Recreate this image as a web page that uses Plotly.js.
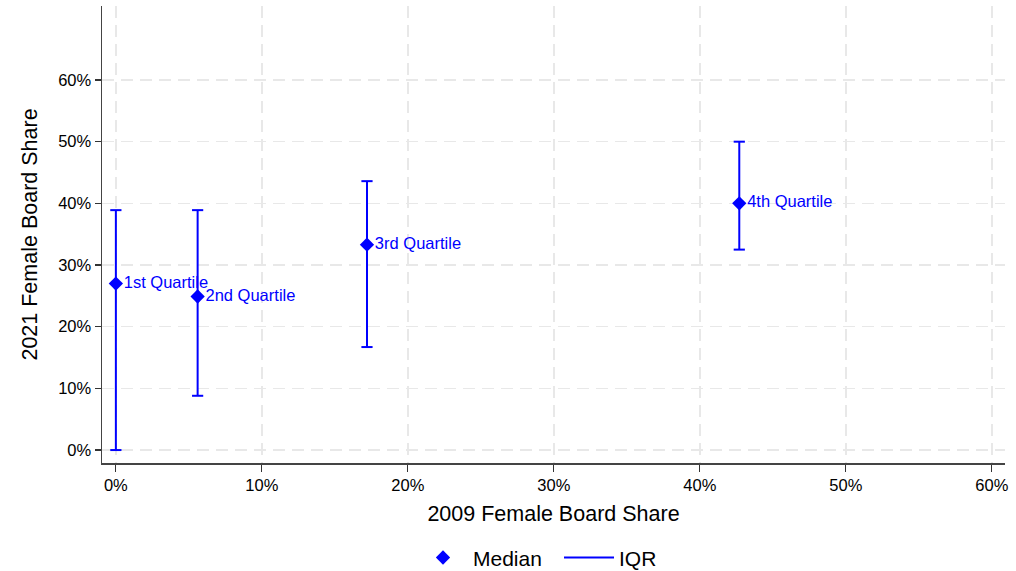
<!DOCTYPE html>
<html>
<head>
<meta charset="utf-8">
<script src="https://cdn.plot.ly/plotly-3.0.1.min.js"></script>
<style>html,body{margin:0;padding:0;background:#fff;}#chart{width:1016px;height:571px;}</style>
</head>
<body>
<div id="chart"></div>
<script>
// Data (percent)
const quartiles = ["1st Quartile", "2nd Quartile", "3rd Quartile", "4th Quartile"];
const share2009 = [0.0, 5.6, 17.2, 42.7];
const median2021 = [27.0, 24.9, 33.3, 40.0];
const iqrLow2021 = [0.0, 8.8, 16.7, 32.5];
const iqrHigh2021 = [38.9, 38.9, 43.6, 50.0];
const xTickVals = [0, 10, 20, 30, 40, 50, 60];
const yTickVals = [0, 10, 20, 30, 40, 50, 60];

const blue = "#0000ff";
const font = "Liberation Sans, Arial, Helvetica, sans-serif";

// IQR vertical segments
const segX = [], segY = [];
quartiles.forEach((q, i) => {
  segX.push(share2009[i], share2009[i], null);
  segY.push(iqrLow2021[i], iqrHigh2021[i], null);
});
// caps
const capX = [], capY = [];
quartiles.forEach((q, i) => {
  capX.push(share2009[i], share2009[i]);
  capY.push(iqrLow2021[i], iqrHigh2021[i]);
});

const traces = [
  {
    type: "scatter", mode: "markers+text", name: "Median",
    x: share2009, y: median2021, text: quartiles,
    textposition: "middle right",
    textfont: {family: font, size: 16.5, color: blue},
    marker: {symbol: "diamond", size: 11, color: blue},
    hoverinfo: "skip", cliponaxis: false
  },
  {
    type: "scatter", mode: "lines", name: "IQR",
    x: segX, y: segY,
    line: {color: blue, width: 2},
    hoverinfo: "skip"
  },
  {
    type: "scatter", mode: "markers", name: "caps", showlegend: false,
    x: capX, y: capY,
    marker: {symbol: "line-ew", size: 8, color: blue, line: {color: blue, width: 2}},
    hoverinfo: "skip"
  }
];

const layout = {
  width: 1016, height: 571,
  margin: {l: 102, r: 11, t: 6, b: 108, autoexpand: false},
  paper_bgcolor: "#fff", plot_bgcolor: "#fff",
  font: {family: font, color: "#000"},
  showlegend: true,
  legend: {
    orientation: "h", x: 0.4065, xref: "container", xanchor: "left",
    y: 0.023, yref: "container", yanchor: "middle",
    font: {family: font, size: 21, color: "#000"},
    traceorder: "normal", itemwidth: 50, entrywidth: 81
  },
  xaxis: {
    range: [-0.95, 60.9],
    tickvals: xTickVals, ticktext: xTickVals.map(v => v + "%"),
    ticks: "outside", ticklen: 7, tickwidth: 1.2, tickcolor: "#333",
    tickfont: {family: font, size: 16.5, color: "#000"},
    showline: true, linecolor: "#444", linewidth: 1.5,
    showgrid: true, gridcolor: "#e8e8e8", gridwidth: 1.5, griddash: "12px,7px",
    zeroline: false, automargin: false,
    title: {text: "2009 Female Board Share", font: {family: font, size: 21.5, color: "#000"}, standoff: 12}
  },
  yaxis: {
    range: [-2.1, 72],
    tickvals: yTickVals, ticktext: yTickVals.map(v => v + "%"),
    ticks: "outside", ticklen: 6, tickwidth: 1.2, tickcolor: "#333",
    tickfont: {family: font, size: 16.5, color: "#000"},
    showline: true, linecolor: "#444", linewidth: 1.5,
    showgrid: true, gridcolor: "#e8e8e8", gridwidth: 1.5, griddash: "12px,7px",
    zeroline: false, automargin: false,
    title: {text: "2021 Female Board Share", font: {family: font, size: 21.5, color: "#000"}, standoff: 14}
  }
};

Plotly.newPlot("chart", traces, layout, {displayModeBar: false, staticPlot: true});
</script>
</body>
</html>
